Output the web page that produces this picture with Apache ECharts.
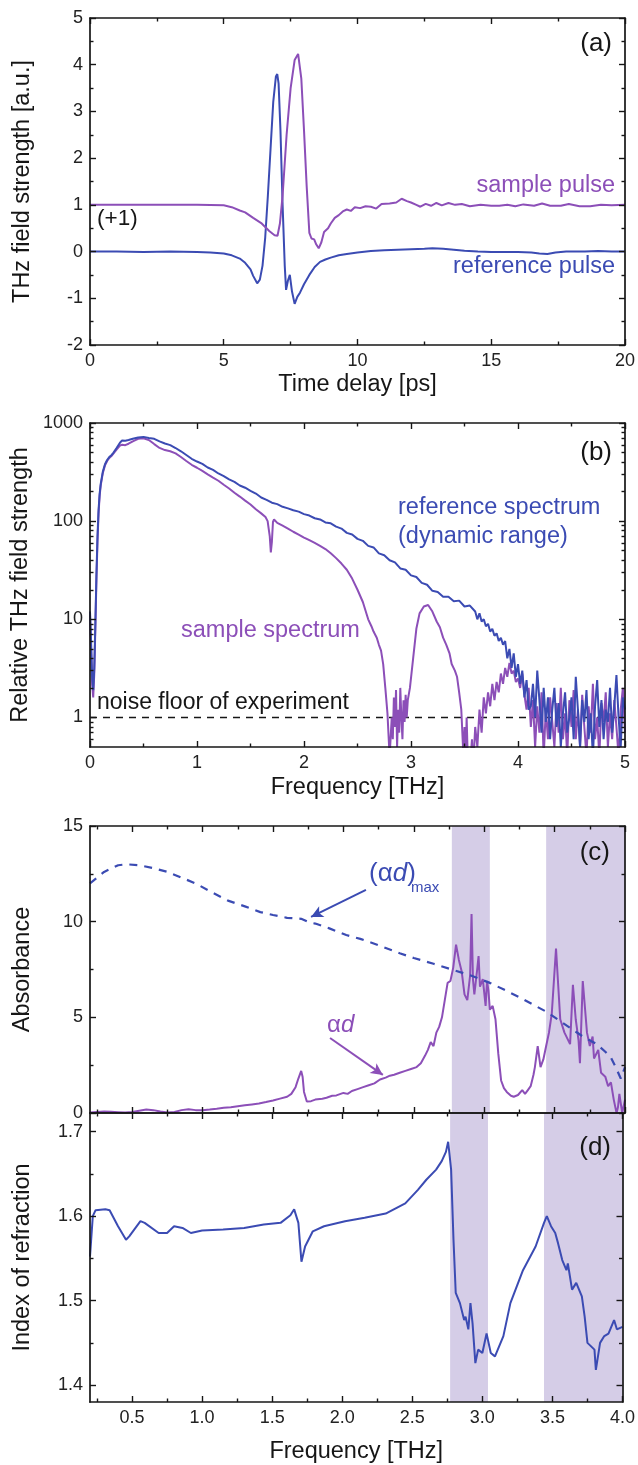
<!DOCTYPE html>
<html><head><meta charset="utf-8"><title>THz spectroscopy</title>
<script src="https://cdn.jsdelivr.net/npm/echarts@6.0.0/dist/echarts.min.js"></script>
<style>html,body{margin:0;padding:0;background:#fff;}#chart{width:638px;height:1465px;}</style>
</head><body><div id="chart"></div>
<script>
// ---------------- (a) time domain ----------------
const aXLabels = [0, 5, 10, 15, 20];
const aXMinor = [2.5, 7.5, 12.5, 17.5];
const aYLabels = [-2, -1, 0, 1, 2, 3, 4, 5];
const aYMinor = [-1.5, -0.5, 0.5, 1.5, 2.5, 3.5, 4.5];
const referencePulse = [[0,0],[1,0],[2,-0.01],[3,0],[4,-0.01],[4.5,-0.02],[5,-0.04],[5.3,-0.08],[5.6,-0.15],[5.8,-0.24],[6.0,-0.38],[6.1,-0.52],[6.25,-0.68],[6.35,-0.6],[6.45,-0.3],[6.55,0.3],[6.65,1.2],[6.75,2.2],[6.85,3.2],[6.95,3.75],[7.0,3.8],[7.05,3.6],[7.12,2.6],[7.2,1.0],[7.28,-0.3],[7.33,-0.82],[7.4,-0.62],[7.47,-0.5],[7.55,-0.85],[7.65,-1.12],[7.75,-0.97],[7.85,-0.88],[8.0,-0.7],[8.2,-0.5],[8.4,-0.33],[8.6,-0.22],[8.8,-0.17],[9.0,-0.13],[9.3,-0.08],[9.6,-0.05],[10,-0.02],[10.5,0.01],[11,0.03],[11.5,0.04],[12,0.05],[12.5,0.06],[12.8,0.07],[13.2,0.06],[13.6,0.04],[14,0.02],[14.5,0],[15,-0.01],[15.5,-0.01],[16,-0.01],[16.5,-0.02],[16.8,-0.04],[17.1,-0.05],[17.4,-0.02],[17.8,0],[18.5,0],[19,0.01],[19.5,0],[20,0]];
const samplePulse = [[0,1],[2,1],[4,1],[5,0.99],[5.3,0.95],[5.6,0.88],[5.8,0.84],[6.1,0.72],[6.4,0.61],[6.7,0.44],[6.9,0.35],[7.01,0.34],[7.1,0.6],[7.2,1.2],[7.35,2.5],[7.5,3.5],[7.65,4.1],[7.78,4.23],[7.9,3.7],[8.0,2.6],[8.1,1.4],[8.2,0.4],[8.28,0.28],[8.38,0.26],[8.46,0.15],[8.55,0.07],[8.65,0.2],[8.75,0.42],[8.9,0.5],[9.0,0.6],[9.15,0.72],[9.3,0.78],[9.45,0.86],[9.6,0.9],[9.75,0.87],[9.9,0.95],[10.1,0.93],[10.3,0.97],[10.5,0.96],[10.7,0.92],[10.9,1.02],[11.2,1.03],[11.45,1.05],[11.65,1.13],[11.85,1.08],[12.0,1.05],[12.2,1.0],[12.35,0.96],[12.55,1.02],[12.75,0.98],[12.95,1.04],[13.15,0.99],[13.4,1.04],[13.65,1.0],[13.9,1.02],[14.2,0.97],[14.6,1.0],[15,0.98],[15.3,0.98],[15.6,1.0],[15.9,0.97],[16.2,1.01],[16.6,0.98],[16.9,1.03],[17.2,0.98],[17.6,0.98],[17.9,1.02],[18.3,0.97],[18.7,0.97],[19.1,1.0],[19.5,0.99],[20,1.0]];

// ---------------- (b) spectra ----------------
const bXLabels = [0, 1, 2, 3, 4, 5];
const bXMinor = [0.5, 1.5, 2.5, 3.5, 4.5];
const bYLabels = [1, 10, 100, 1000];
const bYMinor = [0.6,0.7,0.8,0.9,2,3,4,5,6,7,8,9,20,30,40,50,60,70,80,90,200,300,400,500,600,700,800,900];
const referenceSpectrum = [[0,12],[0.01,6],[0.02,2.6],[0.03,1.9],[0.04,3.2],[0.05,9],[0.06,28],[0.07,70],[0.08,130],[0.09,190],[0.1,240],[0.12,320],[0.14,380],[0.16,420],[0.18,450],[0.2,470],[0.22,500],[0.25,560],[0.28,630],[0.3,665],[0.33,660],[0.36,672],[0.4,690],[0.45,712],[0.5,722],[0.55,705],[0.6,690],[0.65,650],[0.7,618],[0.75,595],[0.8,556],[0.85,515],[0.9,472],[0.95,432],[1.0,405],[1.05,383],[1.1,352],[1.15,333],[1.2,306],[1.25,287],[1.3,266],[1.35,251],[1.4,231],[1.45,219],[1.5,204],[1.55,191],[1.6,174],[1.65,165],[1.7,154],[1.75,149],[1.8,140],[1.85,135],[1.9,129],[1.95,125],[2.0,118],[2.05,114],[2.1,107],[2.15,104],[2.2,97],[2.25,95],[2.3,88],[2.35,84],[2.4,76],[2.45,73],[2.5,66],[2.55,63],[2.6,56],[2.65,54],[2.7,47],[2.75,45],[2.8,40],[2.85,38],[2.9,33],[2.95,32],[3.0,28],[3.05,27],[3.1,23.5],[3.15,22.5],[3.2,19.5],[3.25,19],[3.3,17],[3.35,17],[3.4,15.3],[3.45,15.5],[3.5,13.5],[3.55,13.8],[3.6,12],[3.62,10],[3.64,11.5],[3.66,9.5],[3.68,10],[3.7,8.5],[3.72,9],[3.74,7.5],[3.76,8],[3.78,6.8],[3.8,7.2],[3.82,6.0],[3.84,6.5],[3.86,5.5],[3.88,6.0],[3.9,4.0],[3.92,5.0],[3.94,3.2],[3.96,4.5],[3.98,2.6],[4.0,3.5],[4.02,2.2],[4.04,3.0],[4.06,1.6],[4.08,2.4],[4.1,1.2],[4.12,1.3],[4.14,2.2],[4.16,1.0],[4.18,3.0],[4.2,1.5],[4.22,0.7],[4.24,2.0],[4.26,0.9],[4.28,1.6],[4.3,0.6],[4.32,1.2],[4.34,2.0],[4.36,0.8],[4.38,1.4],[4.4,0.5],[4.42,1.1],[4.44,1.8],[4.46,0.7],[4.48,1.0],[4.5,1.6],[4.52,0.6],[4.54,2.6],[4.56,1.2],[4.58,0.5],[4.6,1.5],[4.62,0.9],[4.64,1.9],[4.66,0.6],[4.68,1.1],[4.7,0.4],[4.72,1.3],[4.74,2.4],[4.76,0.8],[4.78,1.5],[4.8,0.6],[4.82,1.2],[4.84,0.9],[4.86,2.0],[4.88,0.7],[4.9,1.3],[4.92,2.7],[4.94,1.0],[4.96,0.5],[4.98,1.6],[5.0,1.2]];
const sampleSpectrum = [[0,11],[0.01,5],[0.02,2.2],[0.03,1.6],[0.04,2.8],[0.05,8],[0.06,25],[0.07,62],[0.08,120],[0.09,180],[0.1,230],[0.12,310],[0.14,370],[0.16,410],[0.18,440],[0.2,460],[0.22,490],[0.25,540],[0.28,590],[0.3,600],[0.33,595],[0.36,615],[0.4,650],[0.45,690],[0.5,700],[0.55,670],[0.6,610],[0.65,557],[0.7,530],[0.75,515],[0.8,490],[0.85,450],[0.9,410],[0.95,375],[1.0,350],[1.05,325],[1.1,300],[1.15,278],[1.2,258],[1.25,235],[1.3,215],[1.35,195],[1.4,178],[1.45,162],[1.5,148],[1.55,132],[1.6,120],[1.64,110],[1.66,100],[1.68,70],[1.69,48],[1.7,62],[1.71,98],[1.72,104],[1.75,96],[1.8,90],[1.85,84],[1.9,78],[1.95,73],[2.0,68],[2.05,64],[2.1,60],[2.15,56],[2.2,52],[2.25,47],[2.3,42],[2.35,37],[2.4,32],[2.45,26],[2.5,20],[2.55,15],[2.6,10],[2.63,8.5],[2.65,7.5],[2.68,6.5],[2.7,5.5],[2.72,4.8],[2.74,3.5],[2.76,2.0],[2.78,1.1],[2.8,0.4],[2.81,0.4],[2.82,1.0],[2.83,0.6],[2.84,1.6],[2.85,0.8],[2.86,1.9],[2.87,0.5],[2.88,1.2],[2.89,0.7],[2.9,2.0],[2.91,1.0],[2.92,0.6],[2.93,1.5],[2.94,0.9],[2.95,1.7],[2.96,1.0],[2.97,1.5],[2.99,2.0],[3.02,4],[3.05,8],[3.08,11.5],[3.12,13.5],[3.16,14],[3.2,12],[3.24,9.5],[3.27,8.3],[3.3,6.5],[3.33,5.5],[3.36,4.5],[3.38,3.5],[3.41,3.0],[3.43,2.6],[3.45,1.8],[3.47,1.2],[3.49,0.4],[3.5,0.8],[3.51,0.3],[3.52,1.0],[3.53,0.4],[3.55,0.3],[3.57,0.6],[3.58,0.3],[3.6,0.8],[3.62,0.5],[3.64,1.2],[3.66,0.7],[3.68,1.6],[3.7,1.1],[3.72,1.8],[3.74,1.3],[3.76,2.2],[3.78,1.5],[3.8,2.3],[3.82,1.8],[3.84,2.8],[3.86,2.2],[3.88,3.2],[3.9,2.6],[3.92,3.6],[3.94,2.8],[3.96,3.0],[3.98,2.3],[4.0,2.5],[4.02,2.0],[4.04,2.8],[4.06,1.7],[4.08,1.2],[4.1,2.0],[4.12,0.8],[4.14,1.5],[4.16,0.5],[4.18,1.3],[4.2,0.7],[4.22,1.8],[4.24,0.4],[4.26,1.2],[4.28,0.6],[4.3,1.6],[4.32,0.9],[4.34,0.5],[4.36,1.4],[4.38,0.7],[4.4,2.0],[4.42,0.6],[4.44,1.1],[4.46,0.4],[4.48,1.5],[4.5,0.8],[4.52,1.9],[4.54,0.6],[4.56,1.2],[4.58,0.5],[4.6,1.7],[4.62,0.8],[4.64,0.4],[4.66,1.3],[4.68,0.7],[4.7,2.2],[4.72,0.6],[4.74,1.0],[4.76,0.4],[4.78,1.4],[4.8,0.9],[4.82,1.8],[4.84,0.5],[4.86,1.1],[4.88,0.6],[4.9,1.5],[4.92,0.8],[4.94,0.4],[4.96,1.2],[4.98,2.0],[5.0,0.7]];
const noiseFloor = [[0,1],[5,1]];

// ---------------- (c) absorbance ----------------
const cdXLabels = [0.5, 1.0, 1.5, 2.0, 2.5, 3.0, 3.5, 4.0];
const cdXMinor = [0.25, 0.75, 1.25, 1.75, 2.25, 2.75, 3.25, 3.75];
const cYLabels = [0, 5, 10, 15];
const cYMinor = [2.5, 7.5, 12.5];
const alphaDMax = [[0.2,12.0],[0.3,12.6],[0.4,12.95],[0.46,13.0],[0.55,12.95],[0.65,12.8],[0.75,12.6],[0.85,12.3],[0.95,12.0],[1.05,11.6],[1.18,11.1],[1.3,10.8],[1.41,10.5],[1.5,10.35],[1.6,10.2],[1.7,10.15],[1.76,9.95],[1.8,9.9],[1.9,9.65],[2.02,9.3],[2.12,9.1],[2.2,8.9],[2.31,8.6],[2.4,8.35],[2.5,8.1],[2.64,7.8],[2.77,7.5],[2.9,7.2],[3.04,6.8],[3.14,6.45],[3.25,6.05],[3.35,5.65],[3.44,5.3],[3.54,4.8],[3.61,4.45],[3.7,4.0],[3.8,3.6],[3.86,3.2],[3.9,2.9],[3.94,2.3],[3.97,1.8],[4.0,2.4]];
const alphaD = [[0.2,0.02],[0.25,0.05],[0.3,0.08],[0.35,0.06],[0.4,0.04],[0.45,0.02],[0.5,0.05],[0.55,0.12],[0.6,0.18],[0.65,0.15],[0.7,0.08],[0.75,0.03],[0.8,0.05],[0.85,0.15],[0.9,0.2],[0.95,0.15],[1.0,0.15],[1.05,0.18],[1.1,0.22],[1.15,0.27],[1.2,0.3],[1.25,0.35],[1.3,0.4],[1.35,0.45],[1.4,0.5],[1.45,0.57],[1.5,0.65],[1.55,0.75],[1.6,0.85],[1.63,1.0],[1.66,1.35],[1.68,1.8],[1.7,2.2],[1.71,1.9],[1.72,1.1],[1.74,0.6],[1.77,0.62],[1.8,0.7],[1.85,0.75],[1.88,0.8],[1.92,0.9],[1.95,0.92],[2.0,1.05],[2.03,1.0],[2.06,1.15],[2.1,1.25],[2.14,1.35],[2.18,1.45],[2.22,1.55],[2.26,1.75],[2.3,1.85],[2.33,1.95],[2.36,2.0],[2.4,2.1],[2.44,2.2],[2.48,2.3],[2.52,2.4],[2.55,2.6],[2.58,3.0],[2.6,3.3],[2.62,3.7],[2.64,3.5],[2.66,4.2],[2.68,4.5],[2.7,5.0],[2.72,5.9],[2.74,6.8],[2.76,6.9],[2.78,7.6],[2.8,8.8],[2.82,8.0],[2.84,7.4],[2.86,6.2],[2.88,5.9],[2.9,7.2],[2.91,10.4],[2.92,7.0],[2.93,6.2],[2.95,7.5],[2.96,8.2],[2.97,6.6],[2.99,7.0],[3.01,5.6],[3.02,6.9],[3.03,6.4],[3.04,5.4],[3.06,5.6],[3.08,4.9],[3.1,3.1],[3.12,1.7],[3.14,1.3],[3.16,1.1],[3.19,0.9],[3.21,0.85],[3.24,0.94],[3.27,1.2],[3.29,1.0],[3.31,1.2],[3.33,1.4],[3.35,2.0],[3.36,2.4],[3.38,3.5],[3.4,2.4],[3.42,2.8],[3.44,3.5],[3.46,4.2],[3.48,5.2],[3.51,8.6],[3.54,4.9],[3.57,4.2],[3.61,3.6],[3.63,6.7],[3.65,4.9],[3.67,3.8],[3.68,2.6],[3.7,6.9],[3.73,4.2],[3.75,3.5],[3.77,4.0],[3.78,2.85],[3.81,3.3],[3.83,2.1],[3.86,1.9],[3.88,1.4],[3.9,1.6],[3.92,0.7],[3.94,0.0],[3.95,0.3],[3.96,1.0],[3.98,0.0],[4.0,0.7]];
const absorptionBands = [[2.77, 3.04], [3.44, 4.0]];

// ---------------- (d) refractive index ----------------
const dYLabels = [1.4, 1.5, 1.6, 1.7];
const dYMinor = [1.45, 1.55, 1.65];
const refractiveIndex = [[0.2,1.552],[0.22,1.6],[0.24,1.607],[0.31,1.608],[0.34,1.607],[0.4,1.588],[0.457,1.572],[0.48,1.576],[0.56,1.594],[0.59,1.592],[0.69,1.58],[0.75,1.58],[0.8,1.588],[0.86,1.586],[0.92,1.58],[1.0,1.583],[1.15,1.584],[1.3,1.586],[1.44,1.59],[1.56,1.592],[1.63,1.601],[1.657,1.608],[1.687,1.592],[1.709,1.546],[1.735,1.564],[1.79,1.582],[1.87,1.588],[2.02,1.594],[2.16,1.598],[2.31,1.603],[2.45,1.615],[2.54,1.631],[2.6,1.643],[2.67,1.655],[2.71,1.665],[2.74,1.676],[2.756,1.688],[2.777,1.655],[2.794,1.572],[2.81,1.509],[2.84,1.497],[2.87,1.477],[2.88,1.481],[2.9,1.466],[2.915,1.497],[2.93,1.473],[2.95,1.426],[2.97,1.442],[3.0,1.438],[3.03,1.461],[3.06,1.438],[3.09,1.434],[3.15,1.458],[3.2,1.497],[3.29,1.536],[3.38,1.564],[3.44,1.592],[3.46,1.6],[3.49,1.588],[3.52,1.58],[3.54,1.568],[3.57,1.548],[3.6,1.536],[3.61,1.544],[3.64,1.513],[3.67,1.521],[3.71,1.505],[3.73,1.481],[3.75,1.45],[3.8,1.442],[3.81,1.418],[3.84,1.45],[3.87,1.458],[3.9,1.461],[3.94,1.477],[3.96,1.466],[4.0,1.469]];

// ---------------- styling ----------------
const PURPLE = '#8c4fb8', BLUE = '#3b4bb3', INK = '#161616', BAND = '#d5cde7';
const FONT = '"Liberation Sans", Arial, Helvetica, sans-serif';
const fmt1 = v => Number(v).toFixed(1);
const fmtInt = v => String(Math.round(Number(v)));

function mkAxes(dim, grid, o) {
  const base = {gridIndex: grid, type: o.type || 'value', min: o.min, max: o.max,
    splitLine: {show: false}, silent: true, z: 5};
  if (o.type === 'log') base.logBase = 10;
  const tickStyle = {color: INK, width: 1.4};
  const sides = dim === 'x' ? ['bottom', 'top'] : ['left', 'right'];
  const out = [];
  sides.forEach((pos, i) => {
    const main = Object.assign({}, base, {position: pos,
      axisLine: {show: true, onZero: false, lineStyle: {color: INK, width: 1.7}},
      axisTick: {show: true, inside: true, length: 6, customValues: o.major, lineStyle: tickStyle},
      axisLabel: {show: false}});
    if (i === 0 && o.labels) {
      main.axisLabel = {show: true, customValues: o.labels, formatter: o.fmt, fontSize: 18,
        color: '#222', fontFamily: FONT, margin: o.margin || 7, showMinLabel: true, showMaxLabel: true};
    }
    if (i === 0 && o.name) {
      Object.assign(main, {name: o.name, nameLocation: 'middle', nameGap: o.gap,
        nameRotate: dim === 'y' ? 90 : 0,
        nameTextStyle: {fontSize: 23.5, color: INK, fontFamily: FONT}});
    }
    out.push(main);
    out.push(Object.assign({}, base, {position: pos,
      axisLine: {show: false, onZero: false},
      axisTick: {show: true, inside: true, length: 3.5, customValues: o.minor, lineStyle: tickStyle},
      axisLabel: {show: false}}));
  });
  return out;
}

const xAxes = [].concat(
  mkAxes('x', 0, {min: 0, max: 20, major: aXLabels, minor: aXMinor, labels: aXLabels, fmt: fmtInt, name: 'Time delay [ps]', gap: 28}),
  mkAxes('x', 1, {min: 0, max: 5, major: bXLabels, minor: bXMinor, labels: bXLabels, fmt: fmtInt, name: 'Frequency [THz]', gap: 29}),
  mkAxes('x', 2, {min: 0.2, max: 4.0, major: cdXLabels, minor: cdXMinor, labels: null}),
  mkAxes('x', 3, {min: 0.2, max: 4.0, major: cdXLabels, minor: cdXMinor, labels: cdXLabels, fmt: fmt1, name: 'Frequency [THz]', gap: 38})
);
const yAxes = [].concat(
  mkAxes('y', 0, {min: -2, max: 5, major: aYLabels, minor: aYMinor, labels: aYLabels, fmt: fmtInt, name: 'THz field strength [a.u.]', gap: 55}),
  mkAxes('y', 1, {type: 'log', min: 0.5, max: 1000, major: bYLabels, minor: bYMinor, labels: bYLabels, fmt: fmtInt, name: 'Relative THz field strength', gap: 57}),
  mkAxes('y', 2, {min: 0, max: 15, major: cYLabels, minor: cYMinor, labels: cYLabels, fmt: fmtInt, name: 'Absorbance', gap: 55}),
  mkAxes('y', 3, {min: 1.38, max: 1.722, major: dYLabels, minor: dYMinor, labels: dYLabels, fmt: fmt1, name: 'Index of refraction', gap: 55})
);

function lineSeries(g, data, color, extra) {
  return Object.assign({type: 'line', xAxisIndex: 4 * g, yAxisIndex: 4 * g, data: data,
    showSymbol: false, symbol: 'none', silent: true, animation: false, z: 3,
    lineStyle: {color: color, width: 2}, itemStyle: {color: color}}, extra || {});
}
const bandArea = {silent: true, itemStyle: {color: BAND}, label: {show: false},
  data: absorptionBands.map(b => [{xAxis: b[0]}, {xAxis: b[1]}])};
function arrow(from, to, color) {
  return {silent: true, symbol: ['none', 'arrow'], symbolSize: [9, 12], animation: false,
    lineStyle: {color: color, width: 2, type: 'solid'}, label: {show: false},
    data: [[{coord: from}, {coord: to}]]};
}

const series = [
  lineSeries(0, referencePulse, BLUE),
  lineSeries(0, samplePulse, PURPLE),
  lineSeries(1, noiseFloor, INK, {lineStyle: {color: INK, width: 1.6, type: [7, 6]}}),
  lineSeries(1, sampleSpectrum, PURPLE),
  lineSeries(1, referenceSpectrum, BLUE),
  lineSeries(2, alphaD, PURPLE, {markArea: bandArea, markLine: arrow([1.905, 3.92], [2.28, 1.99], PURPLE)}),
  lineSeries(2, alphaDMax, BLUE, {lineStyle: {color: BLUE, width: 2.2, type: [8, 7]},
    markLine: arrow([2.16, 11.66], [1.77, 10.25], BLUE)}),
  lineSeries(3, refractiveIndex, BLUE, {markArea: bandArea})
];

function txt(t, x, y, align, color, size) {
  return {type: 'text', x: x, y: y, z: 20, silent: true,
    style: {text: t, fill: color, font: size + 'px ' + FONT,
      align: align, verticalAlign: 'middle', textAlign: align, textVerticalAlign: 'middle'}};
}

const graphic = [
  txt('(a)', 612, 44, 'right', INK, 26),
  txt('sample pulse', 615, 186, 'right', PURPLE, 23.5),
  txt('reference pulse', 615, 267, 'right', BLUE, 23.5),
  txt('(+1)', 97, 219, 'left', INK, 22.5),
  txt('(b)', 612, 453, 'right', INK, 26),
  txt('reference spectrum', 398, 508, 'left', BLUE, 23.5),
  txt('(dynamic range)', 398, 537, 'left', BLUE, 23.5),
  txt('sample spectrum', 181, 631, 'left', PURPLE, 23.5),
  txt('noise floor of experiment', 97, 703, 'left', INK, 23),
  txt('(c)', 610, 853, 'right', INK, 26),
  {type: 'text', x: 369, y: 874, z: 20, silent: true,
    style: {text: '{n|(α}{i|d}{n|)}', align: 'left', verticalAlign: 'middle', textAlign: 'left', textVerticalAlign: 'middle',
      rich: {n: {fontSize: 26, fontFamily: FONT, fill: BLUE, color: BLUE},
             i: {fontSize: 26, fontFamily: FONT, fontStyle: 'italic', fill: BLUE, color: BLUE}}}},
  txt('max', 411, 888, 'left', BLUE, 15),
  {type: 'text', x: 327, y: 1025, z: 20, silent: true,
    style: {text: '{n|α}{i|d}', align: 'left', verticalAlign: 'middle', textAlign: 'left', textVerticalAlign: 'middle',
      rich: {n: {fontSize: 24, fontFamily: FONT, fill: PURPLE, color: PURPLE},
             i: {fontSize: 24, fontFamily: FONT, fontStyle: 'italic', fill: PURPLE, color: PURPLE}}}},
  txt('(d)', 611, 1148, 'right', INK, 26)
];

const option = {
  animation: false,
  backgroundColor: '#ffffff',
  textStyle: {fontFamily: FONT},
  grid: [
    {left: 90, right: 13, top: 18, height: 327},
    {left: 90, right: 13, top: 423, height: 324},
    {left: 90, right: 13, top: 826, height: 287},
    {left: 90, right: 13, top: 1113, height: 289}
  ],
  xAxis: xAxes,
  yAxis: yAxes,
  series: series,
  graphic: graphic
};

const chart = echarts.init(document.getElementById('chart'), null, {renderer: 'canvas'});
chart.setOption(option);
</script>
</body></html>
